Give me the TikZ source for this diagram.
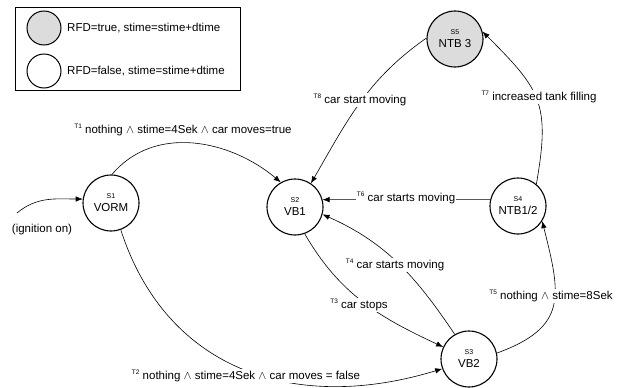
\documentclass[tikz,border=0pt]{standalone}
\usepackage{fontspec}
\setmainfont{Liberation Sans}
\usepackage{amsmath,amssymb}
\usetikzlibrary{arrows.meta}
\definecolor{stategray}{HTML}{DCDCDC}
\newcommand{\st}[2]{{\fontsize{7}{7}\selectfont #1}\\[1pt]#2}
\newcommand{\tn}[1]{\raisebox{0.8ex}{\fontsize{6.5}{7}\selectfont T#1}\ }

\tikzset{
  state/.style={circle, draw, line width=1.1pt, minimum size=56pt, inner sep=0pt,
    align=center, font=\fontsize{11.5}{12}\selectfont},
  goal/.style={state, fill=stategray},
  legend/.style={circle, draw, line width=1pt, minimum size=34pt, inner sep=0pt},
  trans/.style={draw, line width=0.6pt, -{Latex[length=7pt,width=5.5pt]}},
  tlabel/.style={fill=white, inner sep=1pt, font=\fontsize{11.5}{13}\selectfont},
}

\begin{document}
\begin{tikzpicture}[x=1pt,y=1pt]
            \useasboundingbox (0,0) rectangle (624,-388);

            % legend
            \draw[line width=1pt] (15,-7) rectangle (240,-90);
            \node[legend, fill=stategray] (lg1) at (44,-28) {};
            \node[legend] (lg2) at (44,-71) {};
            \node[tlabel, anchor=west] (lgt1) at (66,-28) {RFD=true, stime=stime+dtime};
            \node[tlabel, anchor=west] (lgt2) at (66,-71) {RFD=false, stime=stime+dtime};

            % states
            \node[state] (s1) at (111,-203) {\st{S1}{VORM}};
            \node[state] (s2) at (295,-207) {\st{S2}{VB1}};
            \node[state] (s3) at (469,-359) {\st{S3}{VB2}};
            \node[state] (s4) at (518,-206) {\st{S4}{NTB1/2}};
            \node[goal] (s5) at (455,-39) {\st{S5}{NTB 3}};
            \coordinate (ign) at (17,-213);

            % transitions
            \draw[trans] (ign) to[out=40,in=180] (s1.172);
            \draw[trans] (s1.88) to[out=50,in=140] (s2.120);
            \draw[trans] (s1.-70) to[out=-72,in=-163,looseness=1.1] (s3.-160);
            \draw[trans] (s2.-70) to[out=-60,in=155] (s3.155);
            \draw[trans] (s3.120) to[out=124,in=-24] (s2.-15);
            \draw[trans] (s3.12) to[out=20,in=-76,looseness=1.4] (s4.-32);
            \draw[trans] (s4.167) -- (s2.15);
            \draw[trans] (s4.50) to[out=80,in=-45,looseness=1.3] (s5.15);
            \draw[trans] (s5.178) to[out=215,in=60] (s2.56);

            % labels
            \node[tlabel] (ignl) at (42,-230) {(ignition on)};
            \node[tlabel] (t1) at (183,-130) {\tn{1}nothing $\wedge$ stime=4Sek $\wedge$ car moves=true};
            \node[tlabel] (t2) at (246,-376) {\tn{2}nothing $\wedge$ stime=4Sek $\wedge$ car moves = false};
            \node[tlabel] (t3) at (359,-305) {\tn{3}car stops};
            \node[tlabel] (t4) at (395,-265) {\tn{4}car starts moving};
            \node[tlabel] (t5) at (551,-296) {\tn{5}nothing $\wedge$ stime=8Sek};
            \node[tlabel] (t6) at (406,-198) {\tn{6}car starts moving};
            \node[tlabel] (t7) at (539,-97) {\tn{7}increased tank filling};
            \node[tlabel] (t8) at (360,-100) {\tn{8}car start moving};

        \end{tikzpicture}
\end{document}
